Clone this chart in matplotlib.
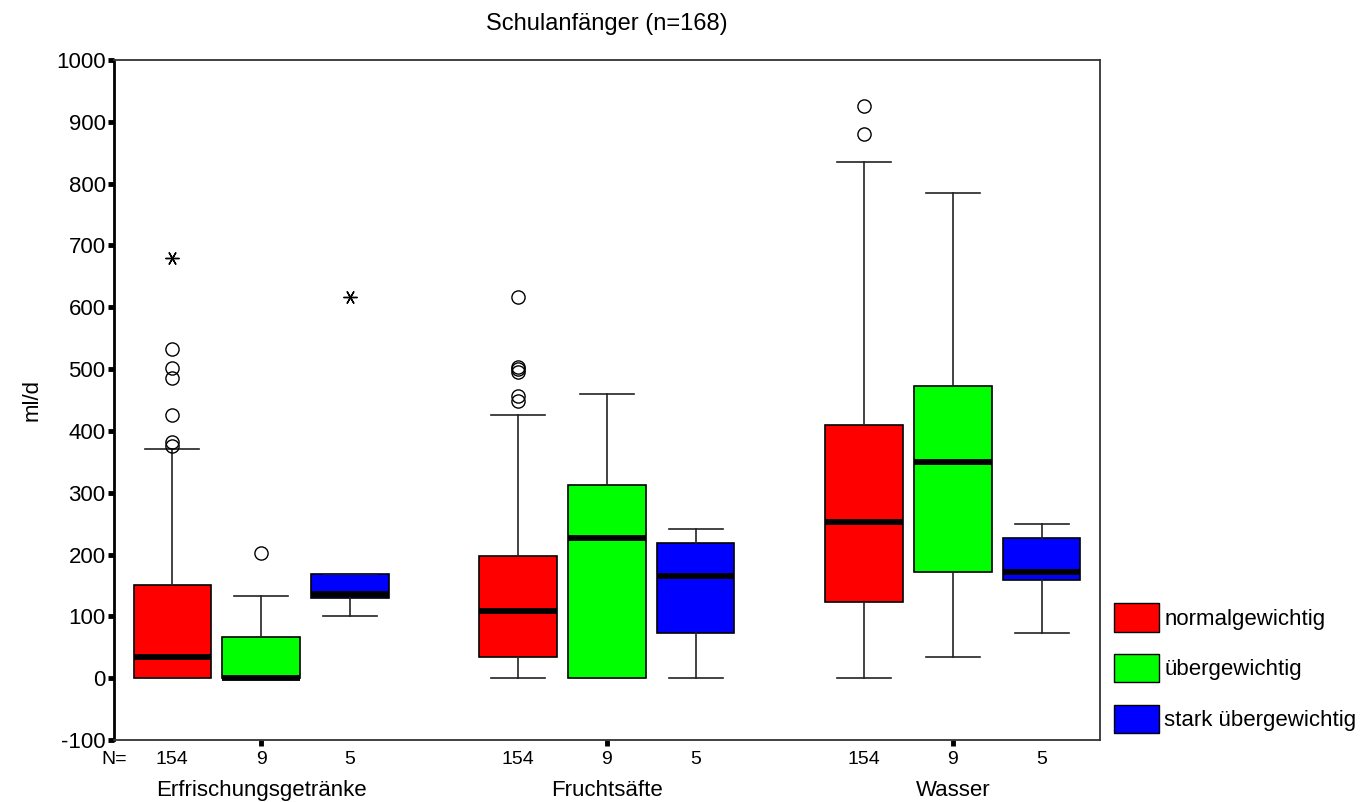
import matplotlib
matplotlib.use('Agg')

import matplotlib.pyplot as plt
from matplotlib.patches import Patch
from matplotlib.transforms import blended_transform_factory

plt.rcParams['font.family'] = ['Liberation Sans', 'DejaVu Sans']
plt.rcParams['axes.unicode_minus'] = False

# --- Data: daily drink intake (ml/d) by drink type and weight class ---
DRINKS = ['Erfrischungsgetränke', 'Fruchtsäfte', 'Wasser']
WEIGHT_CLASSES = ['normalgewichtig', 'übergewichtig', 'stark übergewichtig']
COUNTS = [154, 9, 5]
COLORS = ['#ff0000', '#00ff00', '#0000ff']

# rows = drinks, columns = weight classes
MEDIAN = [[34, 0, 136], [108, 227, 166], [253, 350, 172]]
Q1 = [[0, 0, 130], [34, 0, 73], [123, 172, 159]]
Q3 = [[151, 66, 169], [198, 313, 218], [410, 473, 227]]
WHIS_LO = [[0, 0, 100], [0, 0, 0], [0, 34, 73]]
WHIS_HI = [[371, 133, 169], [426, 459, 242], [835, 784, 250]]
OUTLIERS = [[[533, 502, 486, 426, 382, 376], [202], []],
            [[617, 503, 500, 495, 457, 449], [], []],
            [[926, 880], [], []]]
EXTREMES = [[[679], [], [616]],
            [[], [], []],
            [[], [], []]]

OFFSET = 0.257
BOX_W = 0.223
FS = 16

fig = plt.figure(figsize=(13.7, 8.02), dpi=100)
ax = fig.add_axes([0.0832, 0.0773, 0.7197, 0.848])

stats, positions, box_colors = [], [], []
ext_x, ext_y = [], []
for g in range(len(DRINKS)):
    for k in range(len(WEIGHT_CLASSES)):
        pos = g + 1 + (k - 1) * OFFSET
        positions.append(pos)
        box_colors.append(COLORS[k])
        stats.append({
            'med': MEDIAN[g][k], 'q1': Q1[g][k], 'q3': Q3[g][k],
            'whislo': WHIS_LO[g][k], 'whishi': WHIS_HI[g][k],
            'fliers': OUTLIERS[g][k],
        })
        for v in EXTREMES[g][k]:
            ext_x.append(pos)
            ext_y.append(v)

bp = ax.bxp(stats, positions=positions, widths=BOX_W, capwidths=0.156,
            patch_artist=True, showfliers=True,
            boxprops=dict(edgecolor='black', linewidth=1.2),
            medianprops=dict(color='black', linewidth=4.2, solid_capstyle='butt'),
            whiskerprops=dict(color='#222222', linewidth=1.2),
            capprops=dict(color='#222222', linewidth=1.2),
            flierprops=dict(marker='o', markerfacecolor='none',
                            markeredgecolor='black', markersize=9.5,
                            markeredgewidth=1.0))
for patch, c in zip(bp['boxes'], box_colors):
    patch.set_facecolor(c)

# extreme values drawn as asterisks
ax.plot(ext_x, ext_y, linestyle='none', marker=(6, 2, 90), color='black',
        markersize=10, markeredgewidth=1.0)

ax.set_xlim(0.575, 3.425)
ax.set_ylim(-100, 1000)
ax.set_yticks(range(-100, 1001, 100))
ax.set_xticks([1, 2, 3])
ax.set_xticklabels(DRINKS)
ax.tick_params(axis='y', direction='out', length=4, width=3.5, labelsize=FS, pad=2)
ax.tick_params(axis='x', direction='out', length=4, width=3.5, labelsize=FS, pad=25)
ax.set_ylabel('ml/d', fontsize=FS, labelpad=10)

ax.spines['left'].set_linewidth(2)
for side in ['top', 'right', 'bottom']:
    ax.spines[side].set_linewidth(1.3)
    ax.spines[side].set_color('#333333')

# group sizes below the axis
trans = blended_transform_factory(ax.transData, ax.transAxes)
ax.text(0.0, -0.029, 'N=', transform=ax.transAxes, ha='center', va='center', fontsize=14)
for pos, k in zip(positions, [0, 1, 2] * 3):
    ax.text(pos, -0.029, str(COUNTS[k]), transform=trans, ha='center', va='center',
            fontsize=14)

fig.text(0.443, 0.970, 'Schulanfänger (n=168)', ha='center', va='center', fontsize=17)

handles = [Patch(facecolor=c, edgecolor='black', linewidth=1) for c in COLORS]
fig.legend(handles, WEIGHT_CLASSES, loc='upper left', bbox_to_anchor=(0.813, 0.248),
           frameon=False, fontsize=FS, handlelength=2.05, handleheight=1.6,
           handletextpad=0.22, labelspacing=1.0, borderpad=0, borderaxespad=0)

fig.savefig('out.png', dpi=100)
